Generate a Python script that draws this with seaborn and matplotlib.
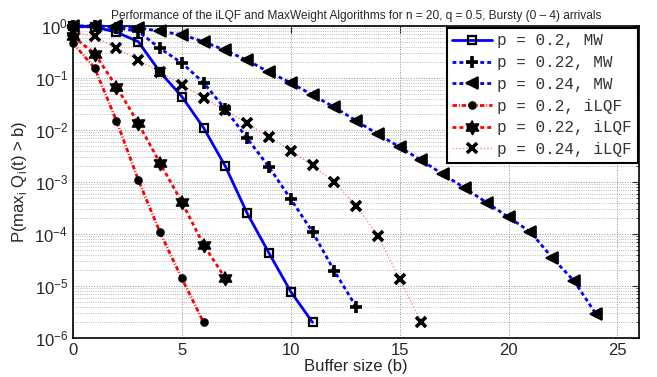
import numpy as np
import pandas as pd
import seaborn as sns
import matplotlib.pyplot as plt
from matplotlib.ticker import FixedLocator, NullFormatter, LogFormatterSciNotation

# P(max_i Q_i(t) > b), index = buffer size b
mw_020 = [1.0, 0.96, 0.76, 0.50, 0.13, 0.044, 0.011, 2.0e-3, 2.5e-4, 4.3e-5, 7.8e-6, 2.0e-6]
mw_022 = [1.0, 0.98, 0.93, 0.79, 0.37, 0.195, 0.081, 0.025, 6.9e-3, 1.95e-3, 4.7e-4,
          1.1e-4, 1.95e-5, 4.0e-6]
mw_024 = [1.0, 1.0, 0.98, 0.93, 0.79, 0.68, 0.50, 0.34, 0.22, 0.13, 0.081, 0.047, 0.0275,
          0.0151, 8.3e-3, 4.7e-3, 2.6e-3, 1.4e-3, 7.6e-4, 4.0e-4, 2.1e-4, 1.1e-4, 3.5e-5,
          1.26e-5, 2.95e-6]
ilqf_020 = [0.47, 0.155, 0.015, 1.1e-3, 1.07e-4, 1.4e-5, 2.0e-6]
ilqf_022 = [0.63, 0.295, 0.068, 0.0135, 2.3e-3, 4.1e-4, 6.2e-5, 1.4e-5]
ilqf_024 = [0.78, 0.63, 0.37, 0.224, 0.129, 0.074, 0.042, 0.024, 0.0135, 7.4e-3, 4.0e-3,
            2.1e-3, 9.8e-4, 3.5e-4, 9.3e-5, 1.35e-5, 2.0e-6]

labels = ['p = 0.2, MW', 'p = 0.22, MW', 'p = 0.24, MW',
          'p = 0.2, iLQF', 'p = 0.22, iLQF', 'p = 0.24, iLQF']
series = [mw_020, mw_022, mw_024, ilqf_020, ilqf_022, ilqf_024]

x_ticks = [0, 5, 10, 15, 20, 25]
y_decades = [1e-6, 1e-5, 1e-4, 1e-3, 1e-2, 1e-1, 1e0]

# six-pointed star (MATLAB hexagram)
ang = np.pi / 2 + np.arange(12) * np.pi / 6
rad = np.where(np.arange(12) % 2 == 0, 1.0, 0.58)
hexagram = list(zip(rad * np.cos(ang), rad * np.sin(ang)))

styles = [
    dict(color='#0000ff', lw=2, dashes=None, marker='s', ms=6, mfc='none', mew=1.6),
    dict(color='#0000ff', lw=2, dashes=(1.4, 1.1), marker='+', ms=8, mfc='black', mew=2.6),
    dict(color='#0000ff', lw=2, dashes=(1.4, 1.1), marker='<', ms=8, mfc='black', mew=1.2),
    dict(color='#ff0000', lw=2, dashes=(1.6, 0.7, 0.3, 0.7), marker='o', ms=5, mfc='black', mew=1.2),
    dict(color='#ff0000', lw=2, dashes=(1.4, 1.1), marker=hexagram, ms=10, mfc='black', mew=1.2),
    dict(color='#ff8888', lw=1, dashes=(1, 1.5), marker='x', ms=6.5, mfc='black', mew=2.6),
]

frames = []
for lab, vals in zip(labels, series):
    frames.append(pd.DataFrame({'b': np.arange(len(vals)), 'P': vals, 'series': lab}))
df = pd.concat(frames, ignore_index=True)

sns.set_style('white')
plt.rcParams['font.family'] = ['Liberation Sans', 'DejaVu Sans']

fig, ax = plt.subplots(figsize=(6.57, 3.77), dpi=100)
fig.subplots_adjust(left=0.111, right=0.973, top=0.931, bottom=0.1034)

for lab, st in zip(labels, styles):
    d = df[df['series'] == lab]
    sns.lineplot(data=d, x='b', y='P', ax=ax, color=st['color'], lw=st['lw'],
                 marker=st['marker'], ms=st['ms'], markerfacecolor=st['mfc'],
                 markeredgecolor='black', mew=st['mew'], clip_on=False,
                 label=lab, zorder=3)
    if st['dashes'] is not None:
        ax.get_lines()[-1].set_dashes(st['dashes'])

ax.set_yscale('log')
ax.set_xlim(0, 26)
ax.set_ylim(1e-6, 1)
ax.set_xticks(x_ticks)
minor = [m * d for d in y_decades[:-1] for m in range(2, 10)]
ax.yaxis.set_major_locator(FixedLocator(y_decades))
ax.yaxis.set_major_formatter(LogFormatterSciNotation())
ax.yaxis.set_minor_locator(FixedLocator(minor))
ax.yaxis.set_minor_formatter(NullFormatter())

ax.grid(True, which='major', axis='both', color='0.55', ls=':', lw=0.7)
ax.grid(True, which='minor', axis='y', color='0.65', ls=':', lw=0.6)
ax.set_axisbelow(True)

ax.tick_params(which='both', direction='in', top=True, right=True, labelsize=12)
ax.tick_params(which='major', length=5, width=0.8)
ax.tick_params(which='minor', length=2.5, width=0.6)
for sp in ax.spines.values():
    sp.set_color('black')
    sp.set_linewidth(1.2)

ax.set_title('Performance of the iLQF and MaxWeight Algorithms for n = 20, q = 0.5, '
             'Bursty (0 \u2013 4) arrivals', fontsize=8.6, pad=5)
ax.set_xlabel('Buffer size (b)', fontsize=12, labelpad=1)
ax.set_ylabel(r'P(max$_{\mathregular{i}}$ Q$_{\mathregular{i}}$(t) > b)', fontsize=12, labelpad=4)

leg = ax.legend(loc='upper right', bbox_to_anchor=(0.997, 0.994), borderaxespad=0,
                prop={'family': 'Liberation Mono', 'size': 11.5}, frameon=True,
                fancybox=False, framealpha=1, edgecolor='black', handlelength=2.5,
                handletextpad=0.3, labelspacing=0.42, borderpad=0.35, numpoints=1)
leg.get_frame().set_linewidth(1.5)
for t in leg.get_texts():
    t.set_color('#333333')

fig.savefig('out.png', dpi=100)
